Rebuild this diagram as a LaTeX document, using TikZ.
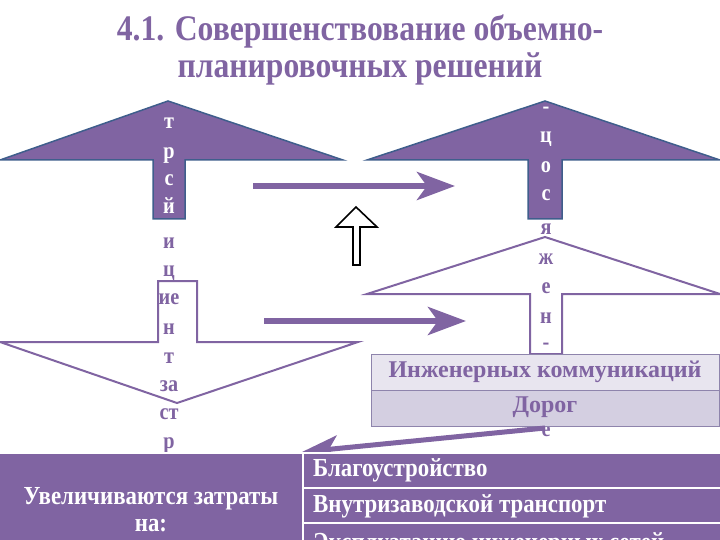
\documentclass[tikz,border=0pt]{standalone}
\usepackage{fontspec}
\setmainfont{Liberation Serif}
\newfontfamily\narrowserif[FakeStretch=0.88]{Liberation Serif}
\usetikzlibrary{arrows.meta}
\definecolor{lilac}{HTML}{8064A2}
\definecolor{slateblue}{HTML}{3F5E8C}
\definecolor{rowa}{HTML}{E8E5EF}
\definecolor{rowb}{HTML}{D4CFE1}
\definecolor{rowline}{HTML}{8E84AC}
\tikzset{
  fillarrow/.style={fill=lilac,draw=slateblue,line width=1.5pt,line join=miter},
  linearrow/.style={fill=white,draw=lilac,line width=2pt,line join=miter},
  hollowarrow/.style={fill=white,draw=black,line width=1.6pt,line join=miter},
  flowarrow/.style={draw=lilac,line width=6pt,-{Stealth[length=38pt,width=28pt,inset=10pt]}},
  letter/.style={font=\narrowserif\bfseries\fontsize{23}{23}\selectfont,inner sep=0pt,anchor=base},
  rowcell/.style={draw=rowline,line width=0.8pt},
  rowtext/.style={font=\bfseries\fontsize{24}{24}\selectfont,text=lilac,inner sep=0pt},
  cellbox/.style={fill=lilac,draw=white,line width=2pt},
  celltext/.style={font=\narrowserif\bfseries\fontsize{26}{27}\selectfont,text=white,inner sep=0pt}
}
\begin{document}
\begin{tikzpicture}[x=1pt,y=-1pt]
\useasboundingbox (0,0) rectangle (720,540);
\node[font=\narrowserif\bfseries\fontsize{36}{37}\selectfont,text=lilac,align=center] (title) at (360,50)
  {4.1. Совершенствование объемно-\\планировочных решений};
\foreach \cx/\l/\r/\t/\h/\sl/\sr/\b/\sty in {168/0/343/101/160/153/185/219/fillarrow,
    545/367/720/101/160/528/562/219/fillarrow,
    545/367/720/237/294/530/562/354/linearrow,
    177/0/358/403/342/158/197/281/linearrow,
    356/336/377/207/227/353/360/265/hollowarrow}{
  \draw[\sty] (\cx,\t)--(\r,\h)--(\sr,\h)--(\sr,\b)--(\sl,\b)--(\sl,\h)--(\l,\h)--cycle;
}
\foreach \t/\y/\c in {т/129/white, р/159/white, с/186/white, й/214/white, и/248/lilac,
    ц/276/lilac, ие/304/lilac, н/334/lilac, т/363/lilac, за/391/lilac, ст/419/lilac, р/448/lilac}{
  \node[letter,text=\c] at (169,\y) {\t};
}
\foreach \t/\y/\c in {-/114/white, ц/143/white, о/173/white, с/201/white, я/234/lilac,
    ж/264/lilac, е/293/lilac, н/323/lilac, -/349/lilac, е/436/lilac}{
  \node[letter,text=\c] at (546,\y) {\t};
}
\path (253,186) coordinate (ta) (455,186) coordinate (tb)
      (264,321) coordinate (ma) (466,321) coordinate (mb);
\draw[flowarrow] (ta) -- (tb);
\draw[flowarrow] (ma) -- (mb);
\draw[rowcell,fill=rowa] (371,354) rectangle (719,390);
\draw[rowcell,fill=rowb] (371,390) rectangle (719,426);
\node[rowtext] (eng) at (545,372) {Инженерных коммуникаций};
\node[rowtext] (road) at (545,407) {Дорог};
\path (545,428) coordinate (da) (302,452) coordinate (db);
\draw[draw=lilac,line width=5pt,-{Stealth[length=36pt,width=26pt,inset=9pt]}] (da) -- (db);
\draw[cellbox] (-2,453) rectangle (303,545);
\draw[cellbox] (303,453) rectangle (722,488);
\draw[cellbox] (303,488) rectangle (722,523);
\draw[cellbox] (303,523) rectangle (722,560);
\node[celltext,align=center] (costs) at (151,510) {Увеличиваются затраты\\на:};
\node[celltext,anchor=west] (c1) at (313,470) {Благоустройство};
\node[celltext,anchor=west] (c2) at (313,506) {Внутризаводской транспорт};
\node[celltext,anchor=west] (c3) at (313,544) {Эксплуатацию инженерных сетей};
\end{tikzpicture}
\end{document}
